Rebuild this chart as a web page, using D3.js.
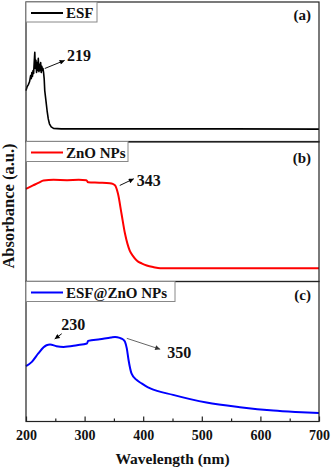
<!doctype html>
<html>
<head>
<meta charset="utf-8">
<script type="text/javascript" src="https://d3js.org/d3.v7.min.js"></script>
<style>
  body { margin: 0; background: #fff; }
</style>
</head>
<body>
<script type="text/javascript">
    // ESF spectrum (panel a)
    var esfWl  = [200, 202, 204, 206, 208, 209, 210, 211, 212, 213, 214, 215, 216, 217, 218, 219, 220, 221, 222, 223, 224, 225, 226, 227, 228, 229, 230, 231, 232, 234, 236, 238, 240, 243, 247, 260, 400, 550, 700];
    var esfAbs = [0.367, 0.396, 0.41, 0.43, 0.475, 0.453, 0.496, 0.468, 0.511, 0.489, 0.568, 0.64, 0.525, 0.583, 0.496, 0.568, 0.511, 0.597, 0.503, 0.554, 0.511, 0.568, 0.496, 0.54, 0.511, 0.525, 0.496, 0.453, 0.367, 0.295, 0.223, 0.165, 0.13, 0.108, 0.097, 0.094, 0.094, 0.094, 0.092];

    // ZnO NPs spectrum (panel b)
    var znoWl  = [200, 212, 222, 230, 247, 270, 290, 303, 306, 325, 343, 348, 352, 357, 363, 369, 377, 383, 389, 398, 406, 418, 429, 500, 600, 700];
    var znoAbs = [0.662, 0.686, 0.706, 0.721, 0.726, 0.724, 0.726, 0.724, 0.709, 0.706, 0.702, 0.697, 0.686, 0.626, 0.484, 0.341, 0.221, 0.18, 0.15, 0.128, 0.114, 0.102, 0.095, 0.095, 0.095, 0.095];

    // ESF@ZnO NPs spectrum (panel c)
    var compWl  = [200, 210, 221, 230, 235, 241, 252, 264, 287, 304, 306, 326, 345, 352, 360, 366, 369, 372, 375, 380, 389, 398, 406, 412, 451, 508, 565, 622, 660, 700];
    var compAbs = [0.396, 0.426, 0.486, 0.53, 0.545, 0.55, 0.538, 0.533, 0.545, 0.557, 0.576, 0.588, 0.6, 0.604, 0.597, 0.585, 0.569, 0.522, 0.439, 0.344, 0.296, 0.27, 0.249, 0.237, 0.19, 0.135, 0.102, 0.078, 0.068, 0.06];

    var legendNames = ["ESF", "ZnO NPs", "ESF@ZnO NPs"];
    var panelNames  = ["(a)", "(b)", "(c)"];
    var seriesColors = ["#000000", "#ff0000", "#0000ff"];

    // peak annotations: panel, label, tail [nm, abs], head [nm, abs], label position [nm, abs]
    var noteLabels = ["219", "343", "230", "350"];
    var notePanel  = [0, 1, 2, 2];
    var noteTail   = [[232, 0.525], [360, 0.686], [261, 0.627], [372, 0.594]];
    var noteHead   = [[266, 0.583], [384, 0.734], [249, 0.589], [429, 0.516]];
    var noteText   = [[270, 0.576], [389, 0.679], [260, 0.654], [441, 0.454]];

    var majorTicks = [200, 300, 400, 500, 600, 700];
    var minorTicks = [250, 350, 450, 550, 650];

    var width = 331, height = 472;
    var left = 26, right = 319;
    var panelTops = [2, 141.5, 281.5];
    var panelH = 140;
    var legendW = [71, 102, 149];
    var labelDy = [18, 21, 18];
    var serif = "'Liberation Serif', Tinos, 'Noto Serif', 'DejaVu Serif', FreeSerif, 'Nimbus Roman', 'Times New Roman', Times, serif";

    var series = [
        esfWl.map(function(w, i) { return [w, esfAbs[i]]; }),
        znoWl.map(function(w, i) { return [w, znoAbs[i]]; }),
        compWl.map(function(w, i) { return [w, compAbs[i]]; })
    ];

    var svg = d3.select("body")
        .append("svg")
        .attr("width", width)
        .attr("height", height)
        .style("font-family", serif)
        .style("font-weight", "bold");

    svg.append("defs").selectAll("marker")
        .data(["black", "#333"])
        .enter()
        .append("marker")
        .attr("id", function(d, i) { return "arrow" + i; })
        .attr("viewBox", "0 0 10 10")
        .attr("refX", 10)
        .attr("refY", 5)
        .attr("markerUnits", "userSpaceOnUse")
        .attr("markerWidth", 7)
        .attr("markerHeight", 5)
        .attr("orient", "auto")
        .append("path")
        .attr("d", "M0,0L10,5L0,10z")
        .attr("fill", function(d) { return d; });

    var x = d3.scaleLinear().domain([200, 700]).range([left, right]);

    var yScales = panelTops.map(function(t) {
        return d3.scaleLinear().domain([0, 1]).range([t + panelH, t]);
    });

    panelTops.forEach(function(top, p) {
        var y = yScales[p];
        var g = svg.append("g");

        var line = d3.line()
            .x(function(d) { return x(d[0]); })
            .y(function(d) { return y(d[1]); })
            .curve(p === 0 ? d3.curveLinear : d3.curveMonotoneX);

        g.append("path")
            .datum(series[p])
            .attr("d", line)
            .attr("fill", "none")
            .attr("stroke", seriesColors[p])
            .attr("stroke-width", p === 0 ? 1.6 : 2)
            .attr("stroke-linejoin", "round");

        // frame
        g.append("rect")
            .attr("x", left)
            .attr("y", top)
            .attr("width", right - left)
            .attr("height", panelH)
            .attr("fill", "none")
            .attr("stroke", "#222")
            .attr("stroke-width", 1.2);

        // legend box
        g.append("rect")
            .attr("x", left)
            .attr("y", top)
            .attr("width", legendW[p])
            .attr("height", 20)
            .attr("fill", "white")
            .attr("stroke", "#888")
            .attr("stroke-width", 1);

        g.append("line")
            .attr("x1", left + 5)
            .attr("x2", left + 37)
            .attr("y1", top + 11)
            .attr("y2", top + 11)
            .attr("stroke", seriesColors[p])
            .attr("stroke-width", 2);

        g.append("text")
            .attr("x", left + 40)
            .attr("y", top + 16)
            .style("font-size", "15px")
            .attr("fill", "#111")
            .text(legendNames[p]);

        g.append("text")
            .attr("x", 311)
            .attr("y", top + labelDy[p])
            .attr("text-anchor", "end")
            .style("font-size", "15px")
            .attr("fill", "#111")
            .text(panelNames[p]);
    });

    // annotations
    noteLabels.forEach(function(lab, i) {
        var y = yScales[notePanel[i]];
        var gray = i === 3;
        svg.append("line")
            .attr("x1", x(noteTail[i][0]))
            .attr("y1", y(noteTail[i][1]))
            .attr("x2", x(noteHead[i][0]))
            .attr("y2", y(noteHead[i][1]))
            .attr("stroke", gray ? "#666" : "#111")
            .attr("stroke-width", 1)
            .attr("marker-end", gray ? "url(#arrow1)" : "url(#arrow0)");

        svg.append("text")
            .attr("x", x(noteText[i][0]))
            .attr("y", y(noteText[i][1]))
            .style("font-size", "16px")
            .attr("fill", "#111")
            .text(lab);
    });

    // x axis on bottom panel, ticks pointing in
    var bottom = panelTops[2] + panelH;

    var axisG = svg.append("g")
        .attr("transform", "translate(0," + bottom + ")")
        .call(d3.axisBottom(x)
            .tickValues(majorTicks)
            .tickSizeInner(-5)
            .tickSizeOuter(0)
            .tickPadding(9));
    axisG.attr("font-family", null).attr("font-size", null);
    axisG.select(".domain").remove();
    axisG.selectAll("line").attr("stroke", "#222").attr("stroke-width", 1.2);
    axisG.selectAll("text")
        .style("font-family", serif)
        .style("font-size", "14px")
        .style("font-weight", "bold")
        .attr("fill", "#111");

    var minorG = svg.append("g")
        .attr("transform", "translate(0," + bottom + ")")
        .call(d3.axisBottom(x)
            .tickValues(minorTicks)
            .tickSizeInner(-3)
            .tickSizeOuter(0)
            .tickFormat(""));
    minorG.select(".domain").remove();
    minorG.selectAll("line").attr("stroke", "#222").attr("stroke-width", 1.2);

    svg.append("text")
        .attr("x", (left + right) / 2)
        .attr("y", 464)
        .attr("text-anchor", "middle")
        .style("font-size", "15.5px")
        .attr("fill", "#111")
        .text("Wavelength (nm)");

    svg.append("text")
        .attr("transform", "translate(13.5,206) rotate(-90)")
        .attr("text-anchor", "middle")
        .style("font-size", "16.5px")
        .attr("fill", "#111")
        .text("Absorbance (a.u.)");
</script>
</body>
</html>
